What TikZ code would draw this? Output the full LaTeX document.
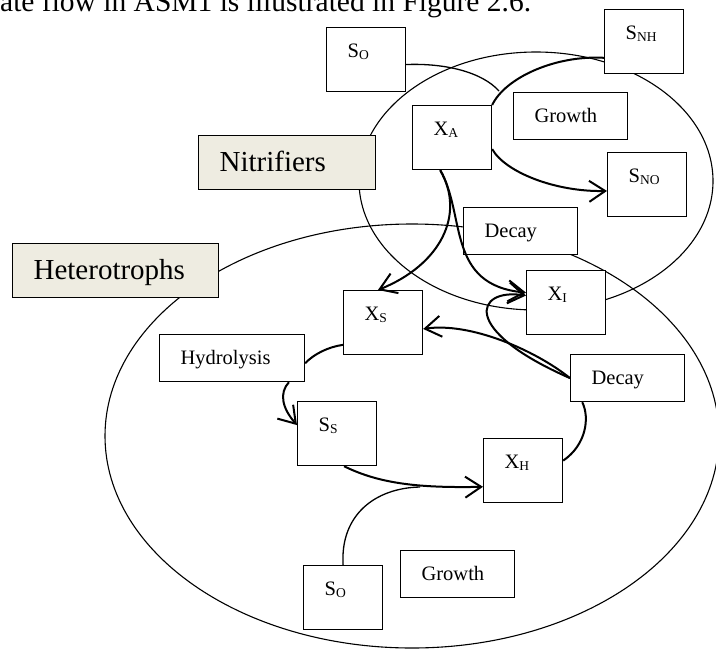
\documentclass[tikz,border=0pt]{standalone}
\usepackage{fontspec}
\setmainfont{Liberation Serif}
\usetikzlibrary{arrows.meta}
\definecolor{groupfill}{HTML}{EEECE1}
\newcommand\subtxt[1]{\raisebox{-1.5pt}{\fontsize{13.5}{15}\selectfont #1}}
\tikzset{
  box/.style={draw,line width=1.2pt,fill=white,anchor=north west,inner xsep=21pt,inner ysep=0pt,
    align=left,text height=30pt,font=\fontsize{20.5}{24}\selectfont},
  species/.style={box,text width=37pt,text depth=34pt},
  process/.style={box,text width=72pt,text depth=17pt},
  group/.style={box,fill=groupfill,text height=36pt,text depth=18pt,font=\fontsize{29}{34}\selectfont},
  flow/.style={line width=2pt,-{Straight Barb[length=16pt,width=21pt]}},
  link/.style={line width=2pt},
  feed/.style={line width=1.3pt},
  culture/.style={line width=1.1pt}
}
\begin{document}
\begin{tikzpicture}[x=1pt,y=-1pt]
\path[use as bounding box] (0,0) rectangle (716,649);
\clip (0,0) rectangle (716,649);
\node[anchor=base west,inner sep=0pt,font=\fontsize{29.5}{34}\selectfont] (caption) at (0,11) {ate flow in ASM1 is illustrated in Figure 2.6.};
% the two cultures
\draw[culture] (412,436) ellipse [x radius=307, y radius=212];
\draw[culture] (536,181) ellipse [x radius=177, y radius=129];
% nitrifiers
\node[species] (soN) at (326,27) {S\subtxt{O}};
\node[species] (snh) at (604,9) {S\subtxt{NH}};
\node[species] (xa) at (412,105) {X\subtxt{A}};
\node[process] (growthN) at (513,92) {Growth};
\node[species] (sno) at (607,152) {S\subtxt{NO}};
\node[group,text width=135pt] (nitri) at (198,135) {Nitrifiers};
\node[process] (decayN) at (463,207) {Decay};
\node[species] (xi) at (526,270) {X\subtxt{I}};
% heterotrophs
\node[group,text width=164pt] (hetero) at (12,243) {Heterotrophs};
\node[species] (xs) at (343,290) {X\subtxt{S}};
\node[process,text width=103pt] (hydro) at (159,334) {Hydrolysis};
\node[process] (decayH) at (570,354) {Decay};
\node[species] (ss) at (297,401) {S\subtxt{S}};
\node[species] (xh) at (483,438) {X\subtxt{H}};
\node[species] (soH) at (303,565) {S\subtxt{O}};
\node[process] (growthH) at (400,550) {Growth};
\coordinate (joinN) at (499,91);
\coordinate (joinH) at (420,487);
% connectors
\draw[link] (snh.202) .. controls (555,55) and (505,78) .. (xa.north east);
\draw[feed] (soN.-7) .. controls (445,63) and (482,72) .. (joinN);
\draw[flow] (xa.-16) .. controls (505,172) and (555,192) .. (sno.189);
\draw[flow] (xa.250) .. controls (466,215) and (440,265) .. (xs.99);
\draw[flow] (xa.250) .. controls (466,215) and (446,285) .. (xi.166);
\draw[flow] (decayH.west) .. controls (460,330) and (475,288) .. (xi.170);
\draw[flow] (decayH.west) .. controls (535,350) and (470,322) .. (xs.-9);
\draw[link] (xh.14) .. controls (586,445) and (590,418) .. (decayH.208);
\draw[link] (xs.209) .. controls (328,347) and (314,354) .. (hydro.-4);
\draw[flow] (hydro.-23) .. controls (279,393) and (282,408) .. (ss.168);
\draw[flow] (ss.282) .. controls (380,484) and (420,488) .. (xh.202);
\draw[feed] (soH.north) .. controls (340,515) and (375,488) .. (joinH);
\end{tikzpicture}
\end{document}
